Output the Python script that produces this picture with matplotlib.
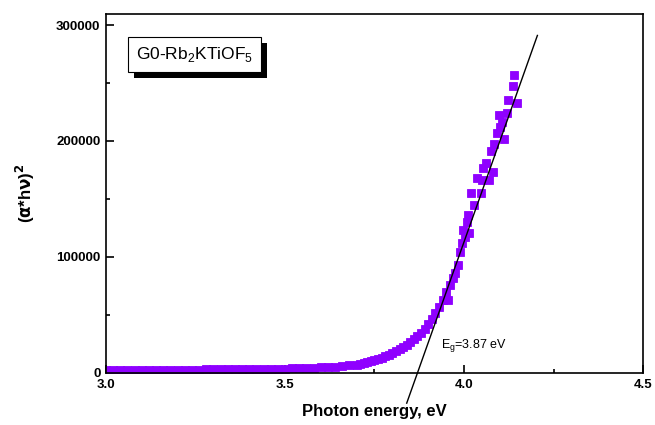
import matplotlib
matplotlib.use('Agg')
import matplotlib.pyplot as plt
import matplotlib.patheffects as pe
from matplotlib.ticker import MultipleLocator

plt.rcParams['font.family'] = ['Liberation Sans', 'DejaVu Sans']

# flat absorption tail, then the rising edge, then the scattered top points
energy = [3.00, 3.02, 3.04, 3.06, 3.08, 3.10, 3.12, 3.14, 3.16, 3.18,
          3.20, 3.22, 3.24, 3.26, 3.28, 3.30, 3.32, 3.34, 3.36, 3.38,
          3.40, 3.42, 3.44, 3.46, 3.48, 3.50, 3.52, 3.54, 3.56, 3.58,
          3.60, 3.62, 3.64, 3.66, 3.68, 3.70,
          3.71, 3.72, 3.73, 3.74, 3.75, 3.76, 3.77, 3.78, 3.79, 3.80,
          3.81, 3.82, 3.83, 3.84, 3.85, 3.86, 3.87, 3.88, 3.89, 3.90,
          3.91, 3.92, 3.93, 3.94, 3.95,
          3.955, 3.961, 3.968, 3.975, 3.983, 3.989, 3.994, 3.997, 4.003, 4.008,
          4.011, 4.014, 4.020, 4.028, 4.036, 4.047, 4.050, 4.053, 4.061, 4.070,
          4.075, 4.080, 4.084, 4.092, 4.098, 4.100, 4.106, 4.112, 4.120, 4.123,
          4.137, 4.140, 4.148]
alpha_hv2 = [2500, 2500, 2550, 2600, 2600, 2650, 2700, 2700, 2750, 2800,
             2850, 2900, 2950, 3000, 3050, 3100, 3150, 3200, 3250, 3300,
             3400, 3450, 3550, 3650, 3750, 3850, 4000, 4150, 4350, 4550,
             4800, 5100, 5500, 6000, 6600, 7300,
             7800, 8400, 9100, 9900, 10800, 11800, 13000, 14300, 15800, 17400,
             19000, 20800, 22600, 24500, 26500, 29000, 31500, 34500, 38000, 42000,
             46500, 51500, 57000, 63000, 70000,
             63000, 76000, 82000, 86000, 93000, 104000, 112000, 123000, 117000, 130000,
             136000, 121000, 155000, 145000, 168000, 155000, 166000, 177000, 181000, 166000,
             191000, 173000, 197000, 207000, 222000, 212000, 216000, 202000, 224000, 235000,
             247000, 257000, 233000]

# linear fit of the edge, crossing zero at Eg
fit_x = [3.84, 4.205]
fit_y = [-26000, 291000]

fig = plt.figure(figsize=(6.55, 4.25), dpi=100)
ax = fig.add_axes([0.1618, 0.1224, 0.8199, 0.8447])

ax.plot(energy, alpha_hv2, 's', color='#8F00FF', markersize=5.2,
        markeredgewidth=0.6, markeredgecolor='#8F00FF')
ax.plot(fit_x, fit_y, color='black', linewidth=1, clip_on=False)

ax.set_xlim(3.0, 4.5)
ax.set_ylim(0, 309500)
ax.xaxis.set_major_locator(MultipleLocator(0.5))
ax.xaxis.set_minor_locator(MultipleLocator(0.25))
ax.yaxis.set_major_locator(MultipleLocator(100000))
ax.yaxis.set_minor_locator(MultipleLocator(50000))
ax.xaxis.set_major_formatter(matplotlib.ticker.FormatStrFormatter('%.1f'))
ax.yaxis.set_major_formatter(matplotlib.ticker.FormatStrFormatter('%d'))
ax.tick_params(which='both', direction='in', width=1.2)
ax.tick_params(which='major', length=5.5, labelsize=9.5, pad=4)
ax.tick_params(which='minor', length=3)
for lab in ax.get_xticklabels() + ax.get_yticklabels():
    lab.set_fontweight('bold')
for s in ax.spines.values():
    s.set_linewidth(1.2)

ax.set_xlabel('Photon energy, eV', fontsize=12, fontweight='bold', labelpad=10)
ax.set_ylabel(r'($\mathbf{\alpha}$*h$\mathbf{\nu}$)$^\mathbf{2}$', fontsize=12,
              fontweight='bold', labelpad=14)

ax.text(3.935, 22000, r'E$_\mathregular{g}$=3.87 eV', fontsize=9)

t = ax.text(0.056, 0.887, r'G0-Rb$_\mathregular{2}$KTiOF$_\mathregular{5}$',
            transform=ax.transAxes, fontsize=12.5, va='center',
            bbox=dict(boxstyle='square,pad=0.45', facecolor='white',
                      edgecolor='black', linewidth=0.8))
t.get_bbox_patch().set_path_effects([
    pe.SimplePatchShadow(offset=(4.5, -4.5), shadow_rgbFace='black', alpha=1),
    pe.Normal()])

fig.savefig('out.png', dpi=100)
